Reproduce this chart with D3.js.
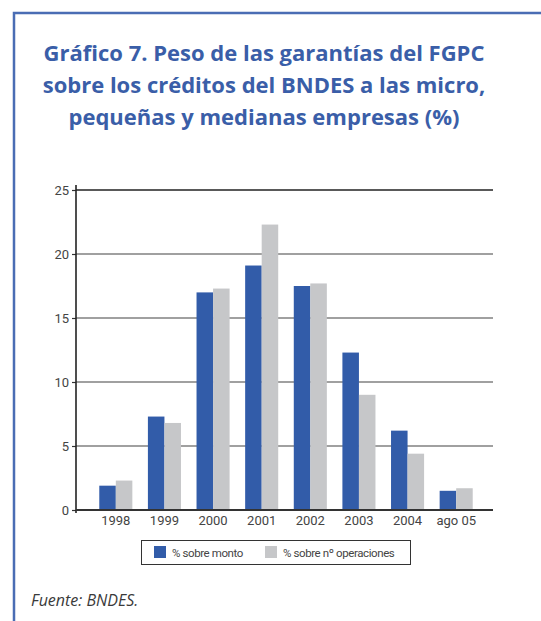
<!DOCTYPE html>
<html>
<head>
<meta charset="utf-8">
<script src="https://cdn.jsdelivr.net/npm/d3@7"></script>
<style>
  body { margin: 0; background: #fff; }
  svg { display: block; }
</style>
</head>
<body>
<svg id="chart" width="541" height="621"></svg>
<script>
// data
const categories = ["1998", "1999", "2000", "2001", "2002", "2003", "2004", "ago 05"];
const montoValues = [1.9, 7.3, 17.0, 19.1, 17.5, 12.3, 6.2, 1.5];
const operacionesValues = [2.3, 6.8, 17.3, 22.3, 17.7, 9.0, 4.4, 1.7];
const yTicks = [0, 5, 10, 15, 20, 25];
const seriesNames = ["% sobre monto", "% sobre nº operaciones"];
const titleLines = [
  "Gráfico 7. Peso de las garantías del FGPC",
  "sobre los créditos del BNDES a las micro,",
  "pequeñas y medianas empresas (%)"
];

const blue = "#325ca9";
const gray = "#c6c7c9";
const narrow = "Roboto, 'Liberation Sans', Arial, sans-serif";

const svg = d3.select("#chart");

// frame (top + left blue rule)
svg.append("path")
  .attr("d", "M14,621 V13 H541")
  .attr("fill", "none")
  .attr("stroke", "#4a6db4")
  .attr("stroke-width", 2.5);

// title
svg.append("text")
  .attr("text-anchor", "middle")
  .attr("font-family", "'Open Sans', sans-serif")
  .attr("font-weight", 700)
  .attr("font-size", 22)
  .attr("fill", "#3a5ea8")
  .selectAll("tspan")
  .data(titleLines)
  .join("tspan")
  .attr("x", 264)
  .attr("y", (d, i) => 61 + i * 32)
  .text((d) => d);

// scales
const x0 = d3.scaleBand()
  .domain(categories)
  .range([91.5, 480.5])
  .paddingInner(0.32)
  .paddingOuter(0.16);

const x1 = d3.scaleBand()
  .domain([0, 1])
  .range([0, x0.bandwidth()]);

const y = d3.scaleLinear().domain([0, 25]).range([510, 190]);

// grid lines
svg.append("g")
  .attr("class", "grid")
  .selectAll("line")
  .data(yTicks.filter((d) => d > 0))
  .join("line")
  .attr("x1", 76)
  .attr("x2", 493)
  .attr("y1", (d) => y(d))
  .attr("y2", (d) => y(d))
  .attr("stroke", (d) => (d === 25 ? "#222" : "#808080"))
  .attr("stroke-width", 1.5);

// bars
const groups = svg.append("g")
  .selectAll("g")
  .data(categories)
  .join("g")
  .attr("transform", (d) => `translate(${x0(d)},0)`);

groups.append("rect")
  .attr("x", x1(0))
  .attr("width", x1.bandwidth())
  .attr("y", (d, i) => y(montoValues[i]))
  .attr("height", (d, i) => y(0) - y(montoValues[i]))
  .attr("fill", blue);

groups.append("rect")
  .attr("x", x1(1))
  .attr("width", x1.bandwidth())
  .attr("y", (d, i) => y(operacionesValues[i]))
  .attr("height", (d, i) => y(0) - y(operacionesValues[i]))
  .attr("fill", gray);

// y axis
const yAxis = svg.append("g")
  .attr("transform", "translate(76,0)")
  .call(d3.axisLeft(y).tickValues(yTicks).tickSize(4).tickPadding(3));
yAxis.select(".domain").remove();
yAxis.selectAll("line").attr("stroke", "#333").attr("stroke-width", 1.2);
yAxis.selectAll("text")
  .attr("font-family", narrow)
  .attr("font-size", 13)
  .attr("fill", "#444");

svg.append("line")
  .attr("x1", 76).attr("x2", 76)
  .attr("y1", 185).attr("y2", 513)
  .attr("stroke", "#222")
  .attr("stroke-width", 1.6);

// x axis
const xAxis = svg.append("g")
  .attr("transform", "translate(0,510)")
  .call(d3.axisBottom(x0).tickSize(0).tickPadding(6));
xAxis.select(".domain").remove();
xAxis.selectAll("text")
  .attr("font-family", narrow)
  .attr("font-size", 13)
  .attr("fill", "#444");

svg.append("line")
  .attr("x1", 76).attr("x2", 493)
  .attr("y1", 510).attr("y2", 510)
  .attr("stroke", "#333")
  .attr("stroke-width", 1.8);

// legend
const legend = svg.append("g");
legend.append("rect")
  .attr("x", 141.5).attr("y", 540.5)
  .attr("width", 269).attr("height", 24)
  .attr("fill", "none")
  .attr("stroke", "#333")
  .attr("stroke-width", 1);

const legendX = [154, 265];
const legendItems = legend.selectAll("g.item")
  .data(seriesNames)
  .join("g")
  .attr("class", "item")
  .attr("transform", (d, i) => `translate(${legendX[i]},546)`);

legendItems.append("rect")
  .attr("width", 12).attr("height", 12)
  .attr("fill", (d, i) => (i === 0 ? blue : gray));

legendItems.append("text")
  .attr("x", 18).attr("y", 10.5)
  .attr("font-family", narrow)
  .attr("font-size", 11.5)
  .attr("letter-spacing", -0.4)
  .attr("fill", "#444")
  .text((d) => d);

// source
svg.append("text")
  .attr("x", 31).attr("y", 606)
  .attr("font-family", "'Open Sans', sans-serif")
  .attr("font-style", "italic")
  .attr("font-weight", 400)
  .attr("font-size", 16)
  .attr("fill", "#3a3a3a")
  .text("Fuente: BNDES.");
</script>
</body>
</html>
